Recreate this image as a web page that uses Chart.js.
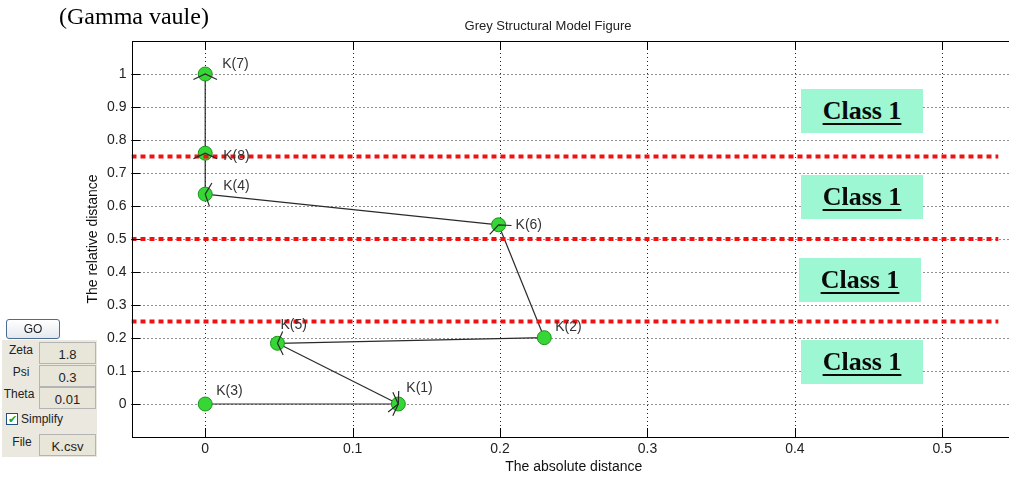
<!DOCTYPE html>
<html>
<head>
<meta charset="utf-8">
<title>Grey Structural Model Figure</title>
<script src="https://cdn.jsdelivr.net/npm/chart.js@4.4.0/dist/chart.umd.min.js"></script>
<style>
    body { margin: 0; background: #fff; overflow: hidden; width: 1009px; height: 480px; position: relative; font-family: 'Liberation Sans', Arial, sans-serif; }
    #gsm { position: absolute; left: 0; top: 0; }
    .abs { position: absolute; }
    .gamma { left: 59px; top: 3px; font: 24px 'Liberation Serif', 'Times New Roman', serif; color: #000; }
    .cls { position: absolute; width: 122px; height: 44px; background: #9cf7d2; display: flex; align-items: center; justify-content: center;
           font: bold 26px 'Liberation Serif', 'Times New Roman', serif; color: #0a0a0a; text-decoration: underline; text-decoration-thickness: 2px; text-underline-offset: 4px; }
    .go { left: 6px; top: 319px; width: 52px; height: 18px; border: 1px solid #4a6d94; border-radius: 3px; background: linear-gradient(#ffffff, #e4e8ee);
          font-size: 12px; color: #222; text-align: center; line-height: 18px; }
    .panel { left: 2px; top: 340px; width: 95px; height: 117px; background: #ebe9df; }
    .lbl { position: absolute; width: 34px; text-align: center; font-size: 12px; line-height: 14px; color: #222; }
    .box { position: absolute; left: 39px; width: 55px; height: 20px; border: 1px solid #b4b4b4; background: #e8e5d9; text-align: center;
           line-height: 24px; font-size: 13px; color: #222; }
    .chk { left: 6px; top: 413px; width: 10px; height: 10px; border: 1px solid #1c5180; background: #fff; font-size: 11px; line-height: 10px; color: #21a121; text-align: center; }
</style>
</head>
<body>
<canvas id="gsm" width="1030" height="480"></canvas>

<div class="abs gamma">(Gamma vaule)</div>

<div class="cls" style="left:801px; top:89px;">Class 1</div>
<div class="cls" style="left:801px; top:175px;">Class 1</div>
<div class="cls" style="left:799px; top:258px;">Class 1</div>
<div class="cls" style="left:801px; top:340px;">Class 1</div>

<div class="abs go">GO</div>
<div class="abs panel"></div>
<div class="lbl" style="left:4px; top:343px;">Zeta</div>
<div class="box" style="top:342px;">1.8</div>
<div class="lbl" style="left:4px; top:365px;">Psi</div>
<div class="box" style="top:365px;">0.3</div>
<div class="lbl" style="left:2px; top:387px;">Theta</div>
<div class="box" style="top:387px;">0.01</div>
<div class="abs chk">&#10004;</div>
<div class="lbl" style="left:21px; top:412px; width:auto;">Simplify</div>
<div class="lbl" style="left:5px; top:435px;">File</div>
<div class="box" style="top:434px;">K.csv</div>

<script>
// Nodes of the grey structural model
const nodeNames = ['K(1)', 'K(2)', 'K(3)', 'K(4)', 'K(5)', 'K(6)', 'K(7)', 'K(8)'];
const absDistance = [0.131, 0.230, 0, 0, 0.049, 0.199, 0, 0];
const relDistance = [0, 0.201, 0, 0.636, 0.184, 0.543, 1.0, 0.760];

// Directed edges, [from, to] as node numbers
const edges = [[8, 7], [4, 8], [6, 4], [2, 6], [2, 5], [5, 1], [3, 1]];

// Class boundaries (red dotted lines) and where they stop on the x axis
const classBounds = [0.75, 0.5, 0.25];
const boundStart = -0.05;
const boundEnd = 0.538;

const xTicks = [0, 0.1, 0.2, 0.3, 0.4, 0.5];
const yTicks = [0, 0.1, 0.2, 0.3, 0.4, 0.5, 0.6, 0.7, 0.8, 0.9, 1];

// pixel offsets of each node label from its marker
const labelOffsets = [[8, -16], [11, -11], [11, -13], [18, -8], [3, -18], [17, 0], [17, -10], [18, 3]];

const FONT = "'Liberation Sans', Arial, sans-serif";

const nodePoints = nodeNames.map((n, i) => ({ x: absDistance[i], y: relDistance[i] }));

const datasets = [];

classBounds.forEach((b) => {
    datasets.push({
        type: 'line',
        data: [{ x: boundStart, y: b }, { x: boundEnd, y: b }],
        borderColor: '#f01212',
        borderWidth: 4,
        borderDash: [5, 4],
        borderCapStyle: 'butt',
        pointRadius: 0,
        fill: false,
        order: 0
    });
});

datasets.push({
    type: 'scatter',
    data: nodePoints,
    backgroundColor: '#35d635',
    borderColor: '#1a951a',
    borderWidth: 1,
    pointRadius: 7,
    order: 1
});

edges.forEach(([from, to]) => {
    datasets.push({
        type: 'line',
        data: [nodePoints[from - 1], nodePoints[to - 1]],
        borderColor: '#2a2a2a',
        borderWidth: 1.2,
        pointRadius: 0,
        fill: false,
        order: 2
    });
});

const decorPlugin = {
    id: 'decor',
    beforeDatasetsDraw(chart) {
        // dotted MATLAB grid
        const ctx = chart.ctx;
        const a = chart.chartArea;
        const xs = chart.scales.x, ys = chart.scales.y;
        ctx.save();
        ctx.strokeStyle = '#222';
        ctx.lineWidth = 1;
        ctx.setLineDash([1, 3]);
        ctx.beginPath();
        xTicks.forEach((v) => {
            const x = Math.round(xs.getPixelForValue(v)) + 0.5;
            ctx.moveTo(x, a.top); ctx.lineTo(x, a.bottom);
        });
        yTicks.forEach((v) => {
            const y = Math.round(ys.getPixelForValue(v)) + 0.5;
            ctx.moveTo(a.left, y); ctx.lineTo(a.right, y);
        });
        ctx.stroke();
        ctx.restore();
    },
    afterDatasetsDraw(chart) {
        const ctx = chart.ctx;
        const xs = chart.scales.x, ys = chart.scales.y;
        ctx.save();

        // arrowheads at the target of each edge
        ctx.strokeStyle = '#2a2a2a';
        ctx.lineWidth = 1.2;
        edges.forEach(([from, to]) => {
            const px = xs.getPixelForValue(absDistance[from - 1]);
            const py = ys.getPixelForValue(relDistance[from - 1]);
            const qx = xs.getPixelForValue(absDistance[to - 1]);
            const qy = ys.getPixelForValue(relDistance[to - 1]);
            const a = Math.atan2(qy - py, qx - px);
            const L = 13, t = 65 * Math.PI / 180;
            ctx.beginPath();
            ctx.moveTo(qx - L * Math.cos(a - t), qy - L * Math.sin(a - t));
            ctx.lineTo(qx, qy);
            ctx.lineTo(qx - L * Math.cos(a + t), qy - L * Math.sin(a + t));
            ctx.stroke();
        });

        // node labels
        ctx.fillStyle = '#333';
        ctx.font = '14px ' + FONT;
        ctx.textAlign = 'left';
        ctx.textBaseline = 'middle';
        nodeNames.forEach((n, i) => {
            const x = xs.getPixelForValue(absDistance[i]);
            const y = ys.getPixelForValue(relDistance[i]);
            ctx.fillText(n, x + labelOffsets[i][0], y + labelOffsets[i][1]);
        });
        ctx.restore();
    },
    afterDraw(chart) {
        const ctx = chart.ctx;
        const a = chart.chartArea;
        const xs = chart.scales.x, ys = chart.scales.y;
        ctx.save();
        ctx.strokeStyle = '#000';
        ctx.lineWidth = 1;
        ctx.strokeRect(Math.round(a.left) + 0.5, Math.round(a.top) + 0.5, Math.round(a.right - a.left), Math.round(a.bottom - a.top));

        // MATLAB style inward ticks
        const tl = 9;
        ctx.beginPath();
        xTicks.forEach((v) => {
            const x = Math.round(xs.getPixelForValue(v)) + 0.5;
            ctx.moveTo(x, a.bottom); ctx.lineTo(x, a.bottom - tl);
            ctx.moveTo(x, a.top); ctx.lineTo(x, a.top + tl);
        });
        yTicks.forEach((v) => {
            const y = Math.round(ys.getPixelForValue(v)) + 0.5;
            ctx.moveTo(a.left, y); ctx.lineTo(a.left + tl, y);
        });
        ctx.stroke();

        // figure title
        ctx.fillStyle = '#222';
        ctx.font = '13px ' + FONT;
        ctx.textAlign = 'center';
        ctx.textBaseline = 'middle';
        ctx.fillText('Grey Structural Model Figure', 548, 26);
        ctx.restore();
    }
};

const tickLabel = (v) => String(+Number(v).toFixed(2));

new Chart(document.getElementById('gsm').getContext('2d'), {
    type: 'scatter',
    data: { datasets: datasets },
    options: {
        responsive: false,
        animation: false,
        devicePixelRatio: 1,
        layout: { padding: { top: 41, right: 14, bottom: 0, left: 0 } },
        plugins: { legend: { display: false }, tooltip: { enabled: false } },
        scales: {
            x: {
                type: 'linear',
                min: -0.05,
                max: 0.55,
                afterBuildTicks: (s) => { s.ticks = xTicks.map(v => ({ value: v })); },
                afterFit: (s) => { s.height = 43; },
                grid: { display: false, drawTicks: false },
                border: { display: false },
                ticks: { padding: 4, color: '#222', font: { family: FONT, size: 14 }, callback: tickLabel },
                title: { display: true, text: 'The absolute distance', color: '#111', font: { family: FONT, size: 14 }, padding: { top: 0, bottom: 4 } }
            },
            y: {
                type: 'linear',
                min: -0.1,
                max: 1.1,
                afterBuildTicks: (s) => { s.ticks = yTicks.map(v => ({ value: v })); },
                afterFit: (s) => { s.width = 131.5; },
                grid: { display: false, drawTicks: false },
                border: { display: false },
                ticks: { padding: 5, color: '#222', font: { family: FONT, size: 14 }, callback: tickLabel },
                title: { display: true, text: 'The relative distance', color: '#111', font: { family: FONT, size: 14 }, padding: { top: 85, bottom: 0 } }
            }
        }
    },
    plugins: [decorPlugin]
});
</script>
</body>
</html>
